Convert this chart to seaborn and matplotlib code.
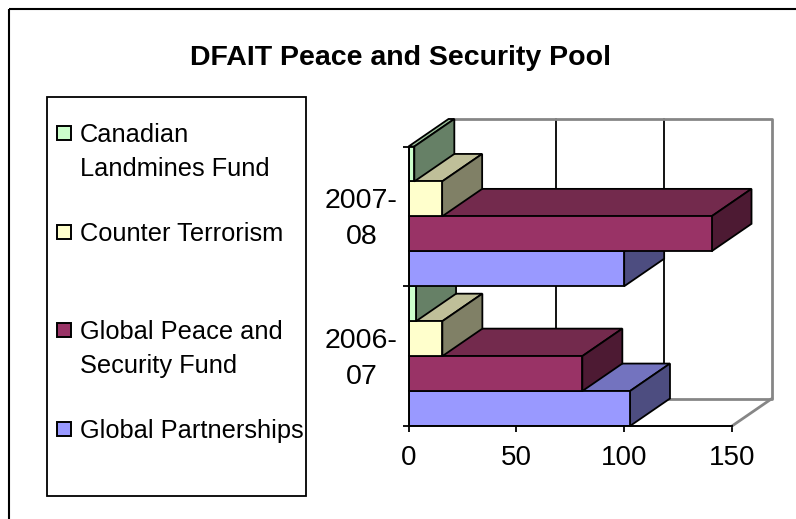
import matplotlib
matplotlib.use("Agg")
import matplotlib.pyplot as plt
import pandas as pd
import seaborn as sns
from matplotlib.patches import Rectangle

# values
years = ["2007-08", "2006-07"]
year_labels = ["2007-\n08", "2006-\n07"]
series = ["Canadian Landmines Fund", "Counter Terrorism",
          "Global Peace and Security Fund", "Global Partnerships"]
legend_labels = ["Canadian\nLandmines Fund", "Counter Terrorism",
                 "Global Peace and\nSecurity Fund", "Global Partnerships"]
landmines = [2.7, 3.5]
terrorism = [15.6, 15.7]
peace = [140.5, 80.6]
partnerships = [100, 102.7]
x_ticks = [0, 50, 100, 150]

front_cols = ["#CCFFCC", "#FFFFCC", "#993366", "#9999FF"]
top_cols = ["#99BF99", "#BFBF99", "#732A4D", "#7373BF"]
side_cols = ["#668066", "#808066", "#4D1A33", "#4D4D80"]

W, H = 796, 519
sns.set_theme(style="white")
plt.rcParams["font.family"] = ["Liberation Sans", "DejaVu Sans"]

df = pd.DataFrame({
    "year": years * 4,
    "series": [s for s in series for _ in years],
    "value": landmines + terrorism + peace + partnerships,
})

fig = plt.figure(figsize=(W / 100, H / 100), dpi=100)

# 外枠、タイトル、凡例はピクセル座標のオーバーレイに描く
bg = fig.add_axes([0, 0, 1, 1])
bg.set_xlim(0, W)
bg.set_ylim(H, 0)
bg.axis("off")
# frame runs off the right and bottom of the image
bg.add_patch(Rectangle((9, 9), 900, 600, fill=False, ec="black", lw=1.5))
bg.text(401, 58, "DFAIT Peace and Security Pool", ha="center", va="center",
        fontsize=20.5, fontweight="bold", color="black")
bg.add_patch(Rectangle((47, 97), 259, 399, fill=False, ec="black", lw=1.3))
for label, col, y in zip(legend_labels, front_cols, [133, 232, 330, 429]):
    bg.add_patch(Rectangle((57, y - 7), 14, 14, fc=col, ec="black", lw=1.4))
    bg.text(80, y - 10, label, ha="left", va="top", fontsize=18.3,
            color="black", linespacing=1.5)

# plot area = front plane of the 3D box
x0, x1, y0, y1 = 408.5, 732, 146.5, 426
ax = fig.add_axes([x0 / W, 1 - y1 / H, (x1 - x0) / W, (y1 - y0) / H])
ax.patch.set_alpha(0)
sns.barplot(data=df, y="year", x="value", hue="series",
            order=years, hue_order=series, palette=front_cols, orient="h",
            width=1, gap=0, saturation=1, legend=False, ax=ax,
            edgecolor="black", linewidth=1.3)
ax.set_xlim(0, 150)
ax.set_ylim(1.5, -0.5)

dx = 40 / (x1 - x0) * 150
dy = 27.5 / (y1 - y0) * 2

# back wall
gray = "#868686"
top = -0.5 - dy
bottom = 1.5 - dy
for v in x_ticks[1:3]:
    ax.plot([v + dx, v + dx], [top, bottom], color="black", lw=1.3,
            clip_on=False, zorder=1)
ax.plot([dx, 150 + dx, 150 + dx, dx], [top, top, bottom, bottom], color=gray,
        lw=2, clip_on=False, zorder=1.5)
ax.plot([150, 150 + dx], [1.5, bottom], color=gray, lw=2, clip_on=False,
        zorder=1.5)

# depth faces, lowest bar first so the upper ones sit on top of it
n_years = len(years)
series_of = {id(b): k // n_years for k, b in enumerate(ax.patches)}
z = 2
for b in sorted(ax.patches, key=lambda b: -b.get_y()):
    j = series_of[id(b)]
    bx, by, bw, bh = b.get_x(), b.get_y(), b.get_width(), b.get_height()
    ax.fill([bx, bx + dx, bx + bw + dx, bx + bw],
            [by, by - dy, by - dy, by], fc=top_cols[j], ec="black", lw=1.3,
            clip_on=False, zorder=z)
    ax.fill([bx + bw, bx + bw + dx, bx + bw + dx, bx + bw],
            [by, by - dy, by + bh - dy, by + bh], fc=side_cols[j], ec="black",
            lw=1.3, clip_on=False, zorder=z + 0.1)
    b.set_zorder(z + 0.2)
    z += 1

for s in ["top", "right"]:
    ax.spines[s].set_visible(False)
for s in ["left", "bottom"]:
    ax.spines[s].set_color("black")
    ax.spines[s].set_linewidth(1.4)
    ax.spines[s].set_zorder(50)
ax.set_xticks(x_ticks)
ax.set_yticks([-0.5, 0.5, 1.5])
ax.set_yticklabels([])
ax.tick_params(axis="both", which="major", length=4.5, width=1.3,
               color="black", left=True, bottom=True)
ax.tick_params(axis="x", labelsize=20, labelcolor="black", pad=9)
for pos, label in enumerate(year_labels):
    ax.text(-47 / (x1 - x0) * 150, pos + 0.02, label, ha="center", va="center",
            fontsize=20.5, color="black", linespacing=1.47)
ax.set_xlabel("")
ax.set_ylabel("")

fig.savefig("out.png", dpi=100)
